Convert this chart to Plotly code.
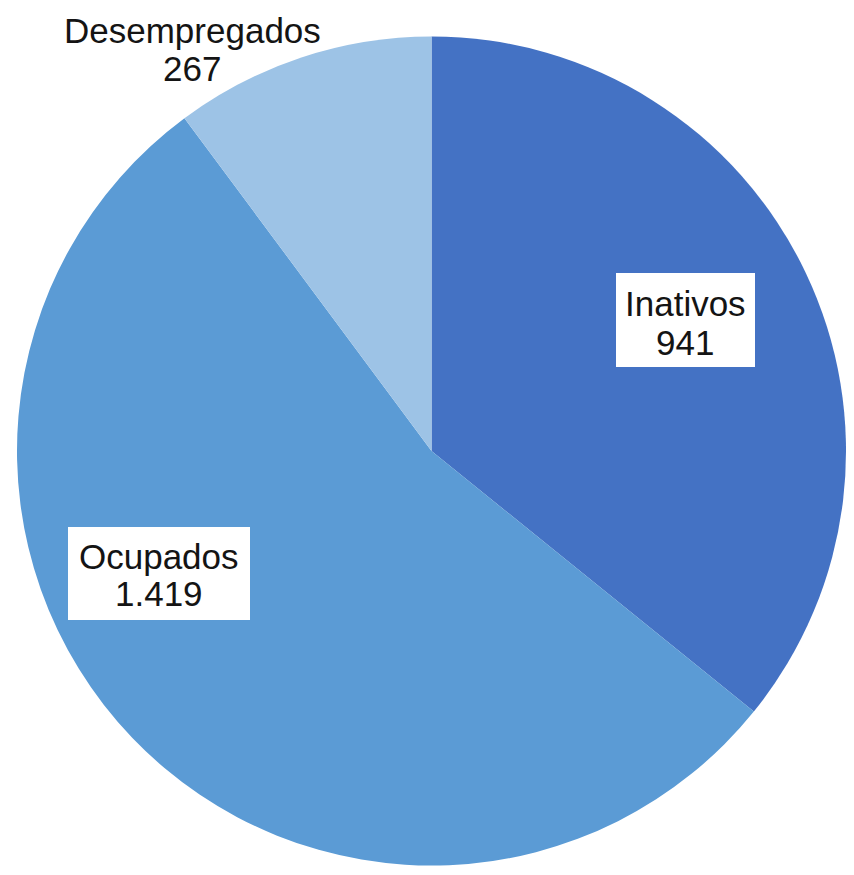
import plotly.graph_objects as go

categories = ["Inativos", "Ocupados", "Desempregados"]
values = [941, 1419, 267]
value_labels = ["941", "1.419", "267"]
colors = ["#4472C4", "#5B9BD5", "#9DC3E6"]

# figure size fits inside the 854x875 window with the default 8px page margin
OFF = 8
W, H = 854 - 2 * OFF, 875 - 2 * OFF


def px_x(px):
    return (px - OFF) / W


def px_y(py):
    return 1 - (py - OFF) / H


fig = go.Figure(go.Pie(
    labels=categories,
    values=values,
    sort=False,
    direction="clockwise",
    rotation=0,
    marker=dict(colors=colors, line=dict(width=0)),
    textinfo="none",
    hoverinfo="label+value",
    showlegend=False,
    domain=dict(x=[px_x(17), 1], y=[0, px_y(35)]),
))

font = dict(family="Liberation Sans, Arial, sans-serif", size=35, color="#141414")

# (box centre x, box centre y, box w, box h) in page pixels, or None for no box
boxes = [(685.5, 320, 139, 94), (159, 573.5, 182, 93), None]
# (x, name line y, value line y) in page pixels
text_pos = [(685, 303, 343), (159, 556, 593), (192, 31, 68)]

for box in boxes:
    if box is None:
        continue
    bx, by, bw, bh = box
    fig.add_annotation(
        text=" ", x=px_x(bx), y=px_y(by), xref="paper", yref="paper",
        xanchor="center", yanchor="middle", showarrow=False,
        bgcolor="white", borderpad=0, borderwidth=0, width=bw, height=bh,
        font=font,
    )

for name, val, (tx, ny, vy) in zip(categories, value_labels, text_pos):
    for txt, ty in ((name, ny), (val, vy)):
        fig.add_annotation(
            text=txt, x=px_x(tx), y=px_y(ty), xref="paper", yref="paper",
            xanchor="center", yanchor="middle", showarrow=False, font=font,
        )

fig.update_layout(
    width=W, height=H,
    margin=dict(l=0, r=0, t=0, b=0),
    paper_bgcolor="white",
    plot_bgcolor="white",
)

fig.write_html("out.html")
